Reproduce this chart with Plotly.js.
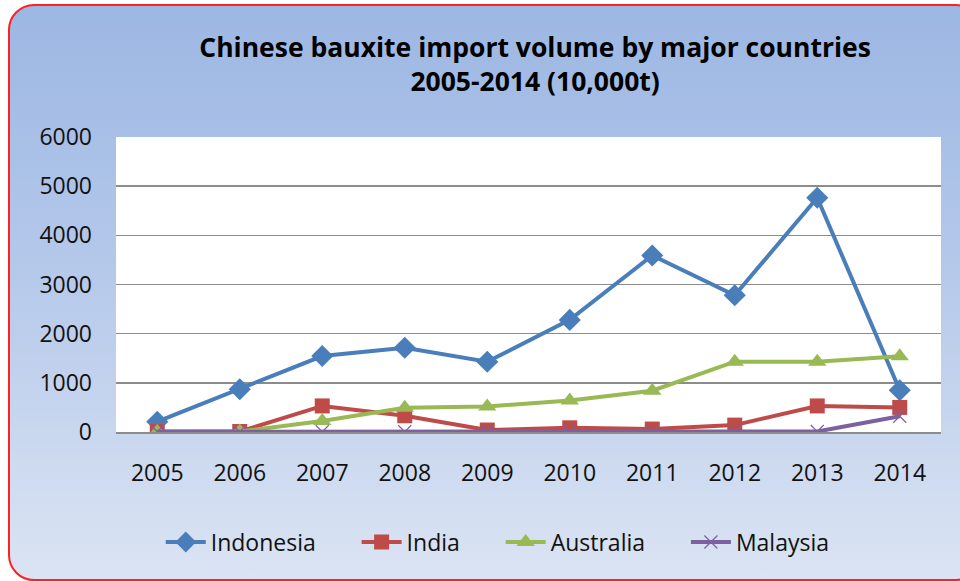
<!DOCTYPE html>
<html><head><meta charset="utf-8">
<script src="https://cdn.plot.ly/plotly-3.0.1.min.js"></script>
<style>
html,body{margin:0;padding:0;width:960px;height:581px;overflow:hidden;background:#fff;}
#bg{position:absolute;left:8px;top:4px;width:970px;height:573px;border:2px solid #ff2020;border-radius:26px;
background:linear-gradient(to bottom,#9cb7e3 0%,#b4c8ea 45%,#dbe4f3 100%);}
#chart{position:absolute;left:0;top:0;width:960px;height:581px;}
</style></head>
<body>
<div id="bg"></div>
<div id="chart"></div>
<script>
const years = ['2005','2006','2007','2008','2009','2010','2011','2012','2013','2014'];
const seriesNames = ['Indonesia', 'India', 'Australia', 'Malaysia'];
const indonesia = [210, 870, 1545, 1715, 1430, 2280, 3590, 2780, 4765, 850];
const india = [10, 10, 530, 330, 40, 85, 60, 140, 530, 500];
const australia = [5, 10, 225, 495, 520, 640, 840, 1430, 1430, 1540];
const malaysia = [5, 5, 5, 5, 5, 5, 5, 10, 10, 320];
const yTicks = [0, 1000, 2000, 3000, 4000, 5000, 6000];

const font = '"Open Sans", Lato, sans-serif';
const pad = '&nbsp;&nbsp;&nbsp;&nbsp;&nbsp;&nbsp;';
function tr(name, y, color, symbol, size, lineColor, lw){
  return {x: years, y: y, name: name, type: 'scatter', mode: 'lines+markers',
    line: {color: color, width: 4},
    marker: {symbol: symbol, size: size, color: color, line: {color: lineColor || color, width: lw || 0}}};
}
const data = [
  tr(seriesNames[0] + pad, indonesia, '#4a7ebb', 'diamond', 17),
  tr(seriesNames[1] + pad, india, '#be4b48', 'square', 15),
  tr(seriesNames[2] + pad, australia, '#98b954', 'triangle-up', 16),
  tr(seriesNames[3], malaysia, '#7d60a0', 'x-thin-open', 13, '#8b74b0', 1.2)
];
const layout = {
  width: 960, height: 581,
  paper_bgcolor: 'rgba(0,0,0,0)', plot_bgcolor: '#ffffff',
  margin: {l: 116, r: 19, t: 137, b: 149},
  font: {family: font, color: '#111', size: 23},
  title: {text: '<b>Chinese bauxite import volume by major countries<br>2005-2014 (10,000t)</b>',
    x: 0.508, xanchor: 'center', y: 0.902, yanchor: 'middle', xref: 'paper',
    font: {family: font, size: 26.5, color: '#000'}},
  xaxis: {type: 'category', range: [-0.5, 9.5], showgrid: false, zeroline: false,
    showline: true, linecolor: '#8c8c8c', linewidth: 2, ticks: '', ticklabelstandoff: 19,
    tickfont: {size: 23, color: '#111'}},
  yaxis: {range: [0, 6000], tickvals: yTicks, ticktext: yTicks.map(String), showgrid: true,
    gridcolor: '#8c8c8c', gridwidth: 1.5, zeroline: false, showline: false, ticks: '',
    ticklabelstandoff: 23, tickfont: {size: 23, color: '#111'}},
  showlegend: true,
  legend: {orientation: 'h', x: 0.5185, xanchor: 'center', xref: 'container', y: 0.067, yanchor: 'middle',
    yref: 'container', bgcolor: 'rgba(0,0,0,0)', font: {size: 23, color: '#111'}, itemwidth: 40,
    traceorder: 'normal'}
};
Plotly.newPlot('chart', data, layout, {displayModeBar: false, staticPlot: true});
</script>
</body></html>
